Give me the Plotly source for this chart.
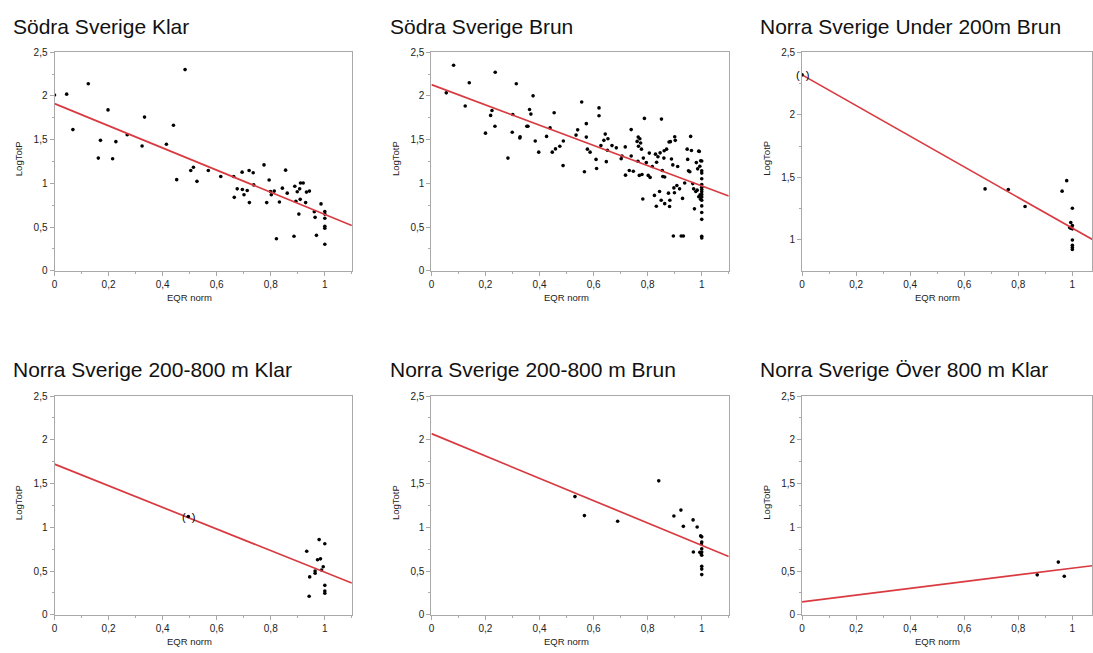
import plotly.graph_objects as go

# ---------------------------------------------------------------------------
# Data: EQR norm (x) against LogTotP (y) for six lake groups
# ---------------------------------------------------------------------------
titles = [
    "Södra Sverige Klar",
    "Södra Sverige Brun",
    "Norra Sverige Under 200m Brun",
    "Norra Sverige 200-800 m Klar",
    "Norra Sverige 200-800 m Brun",
    "Norra Sverige Över 800 m Klar",
]

sodra_klar_eqr = [0.0, 0.045, 0.068, 0.125, 0.162, 0.170, 0.198, 0.215, 0.227, 0.269,
                  0.324, 0.333, 0.414, 0.440, 0.452, 0.483, 0.504, 0.514, 0.527, 0.569,
                  0.615, 0.663, 0.665, 0.676, 0.694, 0.695, 0.701, 0.713, 0.720, 0.721,
                  0.735, 0.737, 0.775, 0.785, 0.794, 0.799, 0.802, 0.813, 0.821, 0.832,
                  0.843, 0.855, 0.861, 0.886, 0.889, 0.893, 0.898, 0.904, 0.907, 0.909,
                  0.910, 0.920, 0.929, 0.932, 0.943, 0.961, 0.964, 0.969, 0.986, 1.0,
                  1.0, 1.0, 1.0, 1.0, 1.0]
sodra_klar_logp = [2.01, 2.02, 1.615, 2.14, 1.289, 1.492, 1.840, 1.282, 1.477, 1.555,
                   1.428, 1.758, 1.447, 1.664, 1.042, 2.301, 1.147, 1.184, 1.023, 1.147,
                   1.079, 1.079, 0.840, 0.937, 1.128, 0.930, 0.870, 0.918, 1.147, 0.780,
                   1.121, 0.982, 1.211, 0.780, 1.038, 0.907, 0.870, 0.911, 0.367, 0.787,
                   0.945, 1.151, 0.888, 0.394, 0.967, 0.795, 0.903, 0.648, 0.937, 0.817,
                   1.004, 1.004, 0.780, 0.900, 0.911, 0.675, 0.611, 0.405, 0.765, 0.678,
                   0.648, 0.600, 0.510, 0.487, 0.304]

sodra_brun_eqr = [0.055, 0.082, 0.125, 0.140, 0.200, 0.219, 0.224, 0.235, 0.236, 0.283,
                  0.299, 0.301, 0.314, 0.327, 0.328, 0.353, 0.357, 0.363, 0.368, 0.376,
                  0.384, 0.397, 0.426, 0.439, 0.447, 0.454, 0.459, 0.475, 0.487, 0.488,
                  0.535, 0.541, 0.556, 0.566, 0.573, 0.573, 0.577, 0.587, 0.609, 0.611,
                  0.620, 0.620, 0.627, 0.638, 0.643, 0.647, 0.651, 0.653, 0.668, 0.684,
                  0.702, 0.705, 0.718, 0.717, 0.732, 0.739, 0.739, 0.747, 0.761, 0.764,
                  0.765, 0.766, 0.769, 0.771, 0.774, 0.777, 0.779, 0.782, 0.784, 0.788,
                  0.795, 0.802, 0.806, 0.809, 0.817, 0.825, 0.829, 0.832, 0.833, 0.838,
                  0.844, 0.846, 0.850, 0.851, 0.854, 0.856, 0.860, 0.861, 0.863, 0.863,
                  0.870, 0.877, 0.879, 0.881, 0.882, 0.884, 0.888, 0.893, 0.895, 0.897,
                  0.899, 0.900, 0.902, 0.908, 0.911, 0.918, 0.924, 0.929, 0.932, 0.937,
                  0.946, 0.948, 0.951, 0.956, 0.959, 0.962, 0.967, 0.970, 0.973, 0.978,
                  0.980, 0.983, 0.985, 0.989, 0.989, 0.991, 0.993, 0.994, 0.996, 0.996,
                  1.0, 1.0, 1.0, 1.0, 1.0, 1.0, 1.0, 1.0, 1.0, 1.0,
                  1.0, 1.0, 1.0, 1.0, 1.0, 1.0]
sodra_brun_logp = [2.035, 2.350, 1.885, 2.151, 1.574, 1.777, 1.833, 1.653, 2.271, 1.289,
                   1.585, 1.788, 2.140, 1.518, 1.533, 1.653, 1.653, 1.844, 1.792, 2.001,
                   1.484, 1.357, 1.537, 1.634, 1.357, 1.807, 1.394, 1.424, 1.203, 1.484,
                   1.552, 1.612, 1.930, 1.132, 1.683, 1.529, 1.391, 1.357, 1.274, 1.169,
                   1.863, 1.773, 1.432, 1.492, 1.563, 1.248, 1.379, 1.510, 1.432, 1.406,
                   1.282, 1.312, 1.094, 1.417, 1.147, 1.615, 1.312, 1.139, 1.480, 1.252,
                   1.529, 1.424, 1.091, 1.510, 1.462, 1.391, 1.102, 0.821, 1.289, 1.743,
                   1.237, 1.091, 1.346, 1.068, 1.192, 0.862, 1.334, 0.738, 1.241, 1.304,
                   0.907, 1.349, 0.806, 1.735, 1.147, 1.079, 1.289, 1.372, 0.768, 1.072,
                   1.391, 0.888, 1.473, 0.735, 0.806, 1.477, 1.278, 1.211, 0.397, 0.948,
                   0.892, 1.533, 1.492, 0.975, 1.192, 0.937, 0.397, 0.828, 0.397, 1.004,
                   1.391, 1.274, 1.143, 1.132, 1.537, 1.376, 0.997, 0.937, 0.708, 0.907,
                   1.237, 0.922, 1.166, 1.368, 0.847, 1.364, 1.196, 0.870, 1.259, 0.817,
                   1.256, 1.143, 1.117, 1.053, 0.986, 0.956, 0.930, 0.903, 0.873, 0.843,
                   0.806, 0.742, 0.667, 0.588, 0.394, 0.375]

norra_u200_brun_eqr = [0.677, 0.763, 0.825, 0.962, 0.979, 1.0, 0.994, 1.0, 0.990, 0.994,
                       1.0, 1.0, 1.0, 1.0, 1.0]
norra_u200_brun_logp = [1.408, 1.403, 1.267, 1.390, 1.474, 1.254, 1.139, 1.115, 1.100, 1.094,
                        1.089, 1.0, 0.958, 0.940, 0.924]

norra_200_800_klar_eqr = [0.933, 0.979, 1.0, 0.973, 0.984, 0.944, 0.964, 0.964, 0.994, 0.988,
                          1.0, 1.0, 1.0, 0.942]
norra_200_800_klar_logp = [0.726, 0.860, 0.812, 0.629, 0.640, 0.434, 0.501, 0.475, 0.550, 0.512,
                           0.337, 0.273, 0.247, 0.213]

norra_200_800_brun_eqr = [0.531, 0.566, 0.689, 0.841, 0.897, 0.923, 0.968, 0.932, 0.983, 0.996,
                          1.0, 1.0, 0.999, 1.0, 1.0, 0.993, 0.997, 0.969, 1.0, 1.0,
                          1.0, 1.0]
norra_200_800_brun_logp = [1.351, 1.134, 1.070, 1.531, 1.130, 1.197, 1.085, 1.011, 1.003, 0.902,
                           0.891, 0.831, 0.809, 0.756, 0.719, 0.714, 0.703, 0.719, 0.681, 0.554,
                           0.523, 0.460]

norra_o800_klar_eqr = [0.870, 0.948, 0.970]
norra_o800_klar_logp = [0.457, 0.603, 0.442]

# Points left out of the fit (shown in brackets)
excluded_eqr = [[], [], [0.0], [0.495], [], []]
excluded_logp = [[], [], [2.319], [1.123], [], []]

# Fitted lines: LogTotP = intercept + slope * EQR
fit_intercept = [1.912, 2.129, 2.319, 1.722, 2.070, 0.149]
fit_slope = [-1.268, -1.158, -1.225, -1.235, -1.276, 0.384]

panel_eqr = [sodra_klar_eqr, sodra_brun_eqr, norra_u200_brun_eqr,
             norra_200_800_klar_eqr, norra_200_800_brun_eqr, norra_o800_klar_eqr]
panel_logp = [sodra_klar_logp, sodra_brun_logp, norra_u200_brun_logp,
              norra_200_800_klar_logp, norra_200_800_brun_logp, norra_o800_klar_logp]

# ---------------------------------------------------------------------------
# Layout geometry (pixels)
# ---------------------------------------------------------------------------
W, H = 1093, 653
col_left = [51.7, 430.0, 802.0]
unit_px = 271.3                      # pixels per EQR unit
row_top = [47.0, 396.7]
row_bottom = [269.3, 619.3]
x_lo, x_hi = 0.0, 1.1
y_lo = [0.0, 0.0, 0.754, 0.0, 0.0, 0.0]
y_hi = 2.5

FONT = "Liberation Sans, Arial, Helvetica, sans-serif"
AX_COLOR = "#a9a9a9"
TXT = "#222222"
RED = "#d83a40"

fig = go.Figure()
annotations = []
layout_axes = {}

for i in range(6):
    r, c = divmod(i, 3)
    n = "" if i == 0 else str(i + 1)
    xa, ya = "x" + n, "y" + n

    left = col_left[c]
    right = min(left + unit_px * (x_hi - x_lo), W)
    x_end = (right - left) / unit_px
    top, bottom = row_top[r], row_bottom[r]

    # data points
    fig.add_trace(go.Scatter(
        x=panel_eqr[i], y=panel_logp[i], mode="markers",
        marker=dict(color="black", size=3.6, line=dict(width=0)),
        xaxis=xa, yaxis=ya, showlegend=False, hoverinfo="x+y"))

    # fitted line
    fx = [x_lo, x_hi]
    fy = [fit_intercept[i] + fit_slope[i] * v for v in fx]
    fig.add_trace(go.Scatter(
        x=fx, y=fy, mode="lines", line=dict(color=RED, width=1.7),
        xaxis=xa, yaxis=ya, showlegend=False, hoverinfo="skip"))

    # excluded points with brackets
    if excluded_eqr[i]:
        fig.add_trace(go.Scatter(
            x=excluded_eqr[i], y=excluded_logp[i], mode="markers",
            marker=dict(color="black", size=3.6, line=dict(width=0)),
            xaxis=xa, yaxis=ya, showlegend=False, hoverinfo="x+y"))
        for ex, ey in zip(excluded_eqr[i], excluded_logp[i]):
            annotations.append(dict(
                x=ex, y=ey, xref=xa, yref=ya, text="(  )", showarrow=False,
                xanchor="center", yanchor="middle",
                font=dict(family=FONT, size=11, color="black")))

    axis_common = dict(
        showline=True, linecolor=AX_COLOR, linewidth=1, mirror=True,
        showgrid=False, zeroline=False,
        ticks="outside", ticklen=4, tickwidth=1, tickcolor=AX_COLOR,
        tickfont=dict(family=FONT, size=10, color=TXT),
    )
    layout_axes["xaxis" + n] = dict(
        axis_common,
        domain=[left / W, right / W], anchor=ya,
        range=[x_lo, x_end], tick0=0, dtick=0.2,
        minor=dict(dtick=0.1, ticklen=2, ticks="outside", tickcolor=AX_COLOR),
    )
    layout_axes["yaxis" + n] = dict(
        axis_common,
        domain=[1 - bottom / H, 1 - top / H], anchor=xa,
        range=[y_lo[i], y_hi], tick0=0, dtick=0.5,
        minor=dict(dtick=0.25, ticklen=2, ticks="outside", tickcolor=AX_COLOR),
    )

    # panel title
    annotations.append(dict(
        x=(left - 44.0) / W, y=1 - (top - 26.5) / H, xref="paper", yref="paper",
        text=titles[i], showarrow=False, xanchor="left", yanchor="middle",
        font=dict(family=FONT, size=21, color="#111111")))
    # x-axis title
    annotations.append(dict(
        x=(left + unit_px * 0.5) / W, y=1 - (bottom + 27.0) / H,
        xref="paper", yref="paper", text="EQR norm", showarrow=False,
        xanchor="center", yanchor="middle",
        font=dict(family=FONT, size=9.5, color=TXT)))
    # y-axis title
    annotations.append(dict(
        x=(left - 36.0) / W, y=1 - ((top + bottom) / 2 - 3) / H,
        xref="paper", yref="paper", text="LogTotP", showarrow=False,
        textangle=-90, xanchor="center", yanchor="middle",
        font=dict(family=FONT, size=9.5, color=TXT)))

fig.update_layout(
    width=W, height=H,
    margin=dict(l=0, r=0, t=0, b=0),
    paper_bgcolor="white", plot_bgcolor="white",
    separators=", ",
    annotations=annotations,
    **layout_axes,
)

fig.write_html("out.html")
